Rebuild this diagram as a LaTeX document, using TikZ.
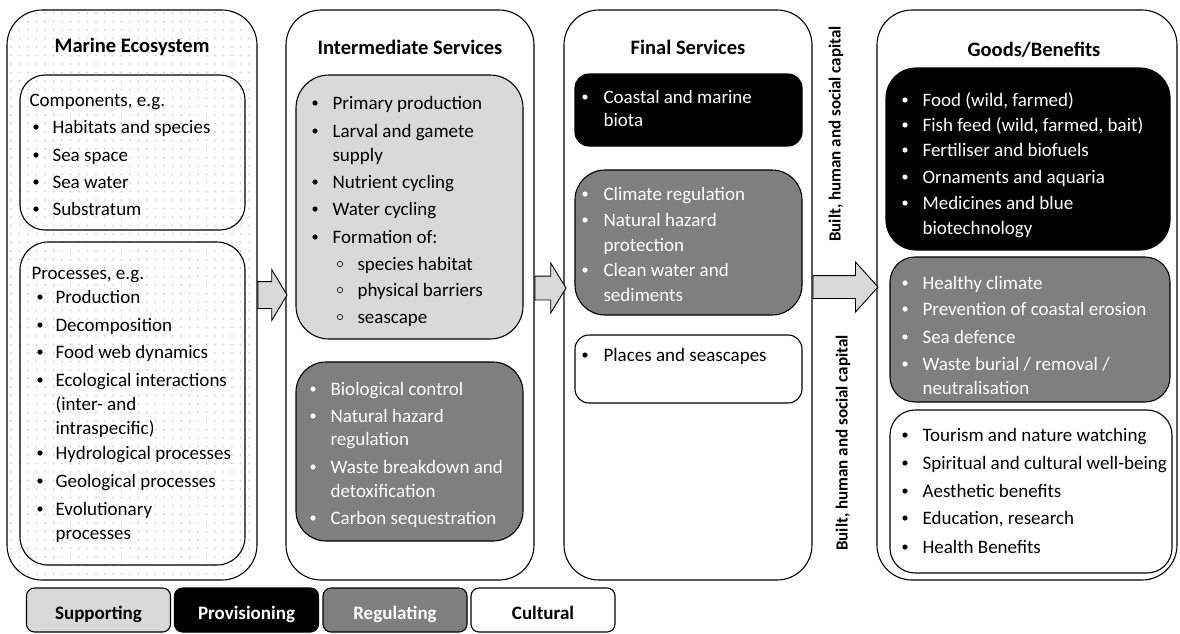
\documentclass[tikz,border=0pt]{standalone}
\usepackage{fontspec}
\setmainfont{Carlito}
\usetikzlibrary{shapes.arrows}

\definecolor{supgray}{HTML}{D9D9D9}
\definecolor{reggray}{HTML}{7F7F7F}
\definecolor{dotgray}{HTML}{C4C4C4}

% one list of lines: name, bullet x, text x, {y/kind/text,...}
% kind 0 = wrapped line, 1 = bullet, 2 = open circle
\newcommand{\bulletlist}[4]{%
  \foreach \yy/\bb/\txt [count=\i] in {#4} {
    \node[itm] (#1\i) at (#3,\yy) {\txt};
    \ifcase\bb\relax
    \or \fill (#2,\yy) circle (2.6pt);
    \or \draw[line width=0.6pt] (#2,\yy) circle (2.7pt);
    \fi
  }}

\begin{document}
\begin{tikzpicture}[x=1pt, y=-1pt, line width=1.1pt,
    column/.style={draw, rounded corners=35pt, minimum width=#1, minimum height=570pt, inner sep=0pt},
    box/.style={draw, rounded corners=#1},
    hdr/.style={inner sep=0pt, font=\bfseries\fontsize{20.5}{24}\selectfont},
    itm/.style={anchor=west, inner sep=0pt, text height=12pt, text depth=0pt, font=\fontsize{19}{23}\selectfont},
    capital/.style={rotate=90, inner sep=0pt, font=\bfseries\fontsize{17}{20}\selectfont},
    key/.style={draw, rounded corners=8pt, minimum width=144pt, minimum height=44pt, inner sep=0pt,
      text height=18pt, text depth=0pt, font=\bfseries\fontsize{19}{22}\selectfont},
    barrow/.style={single arrow, draw, fill=supgray, line width=0.9pt, inner xsep=0pt, single arrow head indent=0pt, anchor=tail}]
  \useasboundingbox (0,0) rectangle (1180,633);

  % dotted ground of the first column
  \begin{scope}
    \clip[rounded corners=35pt] (7,10) rectangle (257,580);
    \fill[dotgray] \foreach \dx in {11,19.5,...,257} {\foreach \dy in {13,21.5,...,580} {(\dx,\dy) circle (0.8pt)}};
  \end{scope}

  % the four columns
  \node[column=250pt] (eco) at (132,295) {};
  \node[column=248pt] (inter) at (410,295) {};
  \node[column=248pt] (final) at (688,295) {};
  \node[column=300pt] (goods) at (1027,295) {};

  \node[hdr] (ecotitle) at (132,47) {Marine Ecosystem};
  \node[hdr] (intertitle) at (410,47) {Intermediate Services};
  \node[hdr] (finaltitle) at (688,47) {Final Services};
  \node[hdr] (goodstitle) at (1034,50) {Goods/Benefits};

  % boxes inside the columns
  \draw[box=25pt] (20,75) rectangle (245,230);
  \draw[box=28pt] (20,242) rectangle (245,565);
  \draw[box=33pt, fill=supgray] (296,75) rectangle (523,339);
  \draw[box=30pt, fill=reggray] (296,362) rectangle (523,541);
  \draw[box=14pt, fill=black] (575,74) rectangle (802,146);
  \draw[box=30pt, fill=reggray] (575,170) rectangle (802,315);
  \draw[box=14pt] (575,335) rectangle (802,403);
  \draw[box=30pt, fill=black] (886,68) rectangle (1170,250);
  \draw[box=25pt, fill=reggray] (890,257) rectangle (1170,402);
  \draw[box=25pt] (890,410) rectangle (1172,573);

  % marine ecosystem
  \node[itm] (comphead) at (29,100) {Components, e.g.};
  \bulletlist{comp}{36}{52}{127/1/Habitats and species, 155/1/Sea space, 182/1/Sea water, 209/1/Substratum}
  \node[itm] (prochead) at (31,273) {Processes, e.g.};
  \bulletlist{proc}{40}{55}{297/1/Production, 325/1/Decomposition, 352/1/Food web dynamics,
    380/1/Ecological interactions, 404/0/(inter- and, 428/0/intraspecific),
    453/1/Hydrological processes, 481/1/Geological processes, 509/1/Evolutionary, 533/0/processes}

  % intermediate services
  \bulletlist{sup}{315}{332}{103/1/Primary production, 131/1/Larval and gamete, 155/0/supply,
    182/1/Nutrient cycling, 209/1/Water cycling, 237/1/Formation of:}
  \bulletlist{supsub}{340}{357}{264/2/species habitat, 290/2/physical barriers, 317/2/seascape}
  \begin{scope}[color=white]
    \bulletlist{ireg}{313}{330}{389/1/Biological control, 416/1/Natural hazard, 439/0/regulation,
      467/1/Waste breakdown and, 491/0/detoxification, 518/1/Carbon sequestration}
  \end{scope}

  % final services
  \begin{scope}[color=white]
    \bulletlist{fprov}{585}{603}{97/1/Coastal and marine, 120/0/biota}
    \bulletlist{freg}{585}{603}{194/1/Climate regulation, 220/1/Natural hazard, 245/0/protection,
      270/1/Clean water and, 295/0/sediments}
  \end{scope}
  \bulletlist{fcult}{585}{603}{355/1/Places and seascapes}

  % goods and benefits
  \begin{scope}[color=white]
    \bulletlist{gprov}{905}{922}{100/1/{Food (wild, farmed)}, 125/1/{Fish feed (wild, farmed, bait)},
      150/1/Fertiliser and biofuels, 177/1/Ornaments and aquaria, 203/1/Medicines and blue, 228/0/biotechnology}
    \bulletlist{greg}{905}{922}{283/1/Healthy climate, 309/1/Prevention of coastal erosion, 337/1/Sea defence,
      364/1/{Waste burial / removal /}, 388/0/neutralisation}
  \end{scope}
  \bulletlist{gcult}{905}{922}{435/1/Tourism and nature watching, 463/1/Spiritual and cultural well-being,
    491/1/Aesthetic benefits, 518/1/{Education, research}, 547/1/Health Benefits}

  % block arrows between the columns
  \node[barrow, minimum height=29pt, inner ysep=13pt, single arrow head extend=12pt, single arrow tip angle=118] (arr1) at (eco.east) {};
  \node[barrow, minimum height=31pt, inner ysep=11.5pt, single arrow head extend=13pt, single arrow tip angle=117] (arr2) at ([yshift=7pt]inter.east) {};
  \node[barrow, minimum height=65pt, inner ysep=11pt, single arrow head extend=13.5pt, single arrow tip angle=96] (arr3) at ([yshift=8pt]final.east) {};

  \node[capital] (cap1) at (836,134) {Built, human and social capital};
  \node[capital] (cap2) at (843,443) {Built, human and social capital};

  % key
  \node[key, fill=supgray] (ksup) at (98.5,610) {Supporting};
  \node[key, fill=black, text=white] (kprov) at (246.5,610) {Provisioning};
  \node[key, fill=reggray, text=white] (kreg) at (395,610) {Regulating};
  \node[key] (kcult) at (543,610) {Cultural};
\end{tikzpicture}
\end{document}
